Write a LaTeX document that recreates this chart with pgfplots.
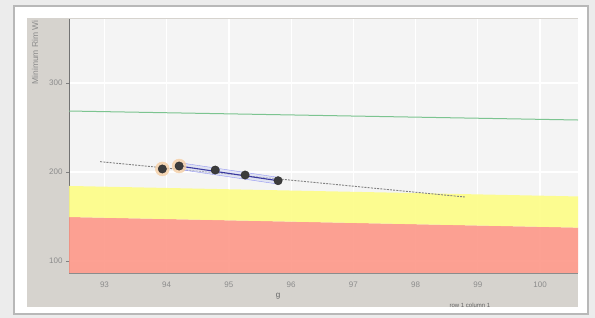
\documentclass[border=0pt]{standalone}
\usepackage{fontspec}
\setmainfont{Liberation Sans}
\usepackage{pgfplots}
\pgfplotsset{compat=1.18}
\definecolor{pagebg}{HTML}{ECECEC}
\definecolor{panel}{HTML}{D6D3CE}
\definecolor{plotbg}{HTML}{F4F4F4}
\definecolor{bandyellow}{HTML}{FDFD86}
\definecolor{bandred}{HTML}{FD9788}
\definecolor{greenline}{HTML}{7CC490}
\definecolor{txtgray}{HTML}{8C8C8C}
\definecolor{bluel}{HTML}{3A3AA0}
\definecolor{blueband}{HTML}{D4D8F0}
\definecolor{halo}{HTML}{F4CFA6}
\definecolor{dot}{HTML}{3C3C3C}
\begin{document}
\begin{tikzpicture}[x=1pt,y=1pt]
\fill[pagebg] (0,0) rectangle (595,318);
\draw[fill=white,draw=black!28,line width=1.2pt] (14,4) rectangle (588,312);
\fill[panel] (27,11) rectangle (578,300);
\begin{axis}[
  at={(69pt,45pt)}, anchor=south west,
  scale only axis, width=509pt, height=254pt,
  xmin=92.43, xmax=100.61, ymin=86.5, ymax=371.9,
  axis background/.style={fill=plotbg},
  xtick={93,94,...,100}, ytick={100,200,300},
  grid=major, major grid style={white, line width=1.2pt},
  axis x line*=bottom, axis y line*=left,
  x axis line style={draw=black!45, line width=0.8pt, -},
  y axis line style={draw=black!55, line width=0.8pt, -},
  tick align=outside, major tick length=3pt,
  x tick style={draw=none},
  y tick style={draw=black!50, line width=0.6pt},
  tick label style={font=\fontsize{8}{9}\selectfont, text=txtgray},
  /pgf/number format/assume math mode=true,
  xticklabel style={yshift=-2pt},
  clip=true,
]
% red band
\addplot[fill=bandred, draw=none, fill opacity=0.9] coordinates {(92.43,86.5) (92.43,149.4) (100.61,137.5) (100.61,86.5)} -- cycle;
% yellow band
\addplot[fill=bandyellow, draw=none, fill opacity=0.9] coordinates {(92.43,149.4) (92.43,184.3) (100.61,172.5) (100.61,137.5)} -- cycle;
% green line
\addplot[greenline, line width=1pt] coordinates {(92.43,268.5) (100.61,258.4)};
% dashed trend
\addplot[black!50, line width=0.9pt, dash pattern=on 2pt off 1.2pt] coordinates {(92.93,211.6) (98.79,171.9)};
% blue confidence band
\addplot[fill=blueband, draw=blueband!70!blue, line width=0.4pt, fill opacity=0.6] coordinates {(94.20,210.5) (95.79,194.0) (95.79,186.4) (94.20,202.9)} -- cycle;
% blue line
\addplot[bluel, line width=1.1pt] coordinates {(94.20,206.7) (95.79,190.2)};
% halos on selected points
\addplot[only marks, mark=*, mark size=7pt, mark options={fill=halo, draw=halo, opacity=0.8}] coordinates {(93.93,203.4) (94.20,206.7)};
% points
\addplot[only marks, mark=*, mark size=4.2pt, mark options={fill=dot, draw=dot!70!black}] coordinates {(93.93,203.4) (94.20,206.7) (94.78,202.2) (95.26,196.6) (95.79,190.2)};
\end{axis}
\node[rotate=90, anchor=east, font=\fontsize{8.5}{9}\selectfont, text=txtgray, inner sep=0pt] at (35,298) {Minimum Rim Wi};
\node[font=\fontsize{8}{9}\selectfont, text=txtgray!70!black, inner sep=0pt] at (278,22) {g};
\node[font=\fontsize{6}{7}\selectfont, text=txtgray!70!black, inner sep=0pt] at (470,13) {row 1 column 1};
\end{tikzpicture}
\end{document}
